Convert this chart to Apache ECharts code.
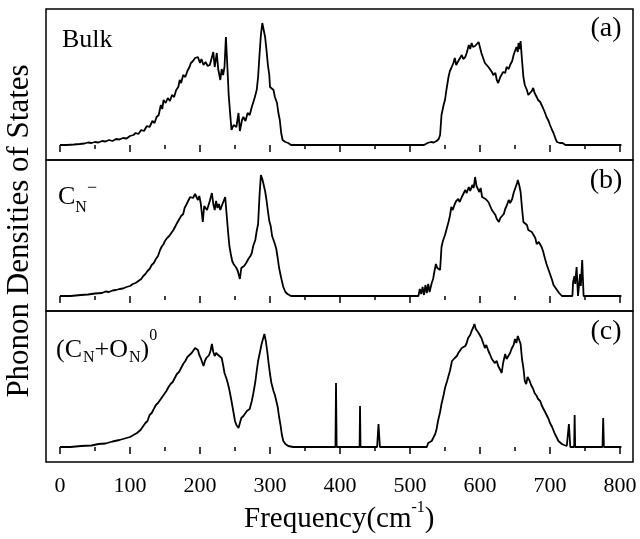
<!DOCTYPE html>
<html><head><meta charset="utf-8">
<script src="https://cdn.jsdelivr.net/npm/echarts@6/dist/echarts.min.js"></script>
<style>html,body{margin:0;padding:0;background:#fff}#c{width:640px;height:539px}</style>
</head><body><div id="c"></div>
<script>
const xTickValues = [0,100,200,300,400,500,600,700,800];
const panelLabels = ['(a)','(b)','(c)'];

const bulk = [[0,0],[10,0],[20,0.5],[28,1],[35,1.5],[40,2.5],[45,2],[50,3],[55,2.5],[60,4],[65,3.5],[70,5],[75,4],[80,6],[85,5.5],[90,7],[95,6.5],[100,9],[105,10],[108,12],[112,11],[116,15],[120,14],[124,19],[128,18],[132,24],[135,22],[138,28],[141,30],[144,40],[146,36],[148,45],[151,42],[154,47],[157,44],[160,50],[163,48],[166,55],[169,58],[171,65],[173,62],[176,70],[179,68],[182,74],[185,78],[187,82],[190,84],[193,87],[195,85],[197,88],[200,82],[202,86],[205,80],[208,83],[211,79],[214,80],[216,78],[219,93],[221,78],[224,92],[226,76],[229,65],[231,76],[233,70],[235,78],[237,108],[239,80],[241,50],[243,32],[245,15],[248,20],[250,22],[252,18],[255,32],[257,14],[260,25],[262,28],[265,24],[268,32],[271,30],[274,38],[276,36],[278,47],[281,55],[283,68],[285,90],[287,110],[289,122],[291,115],[293,108],[295,95],[297,80],[299,70],[300,58],[302,60],[305,55],[307,48],[310,42],[312,32],[314,25],[316,12],[318,5],[322,3],[326,2],[330,0],[520,0],[525,2],[530,3],[534,2.5],[538,4],[541,6],[543,10],[545,30],[548,40],[550,45],[552,55],[555,68],[557,74],[559,77],[562,82],[564,87],[566,80],[569,84],[571,82],[574,90],[576,86],[579,88],[581,92],[584,100],[586,96],[588,102],[590,98],[593,99],[595,97],[598,103],[600,105],[602,92],[604,88],[607,82],[609,84],[612,78],[614,76],[617,73],[619,70],[622,72],[624,65],[626,62],[629,68],[631,70],[633,73],[636,72],[638,78],[641,76],[643,80],[646,84],[648,90],[650,94],[652,98],[654,93],[655,102],[657,96],[658,104],[660,85],[662,68],[664,60],[667,55],[669,50],[671,48],[674,54],[676,57],[678,52],[681,48],[683,45],[686,43],[688,40],[690,37],[693,32],[695,28],[698,24],[700,20],[703,15],[705,12],[708,6],[710,3],[714,2],[718,2],[722,0],[802,0]];

const cnMinus = [[0,0],[15,0],[30,1],[40,1.5],[50,2.5],[60,3],[65,4.5],[70,4],[75,5.5],[80,6],[85,7],[90,7.5],[95,9],[100,10],[104,12],[108,13],[112,15],[116,17],[119,20],[122,22],[125,25],[128,27],[131,31],[134,33],[137,37],[140,40],[143,46],[145,49],[148,52],[150,55],[153,58],[156,60],[159,63],[162,66],[165,70],[168,74],[170,76],[173,80],[176,82],[178,88],[181,92],[183,95],[186,99],[188,101],[190,98],[193,102],[195,99],[197,96],[199,100],[201,93],[204,74],[206,90],[208,92],[210,86],[212,88],[214,95],[217,103],[219,92],[221,86],[223,95],[225,88],[227,92],[229,86],[231,90],[233,88],[236,99],[238,82],[240,65],[242,50],[244,42],[246,35],[248,32],[250,34],[252,28],[254,25],[257,17],[259,28],[261,26],[263,30],[266,33],[269,37],[272,40],[274,43],[276,50],[279,56],[281,65],[283,72],[285,100],[287,121],[289,117],[291,115],[293,105],[295,96],[297,85],[299,75],[301,70],[303,60],[305,56],[307,52],[309,47],[311,38],[313,28],[316,18],[319,9],[322,4],[325,2],[330,0],[512,0],[514,7],[516,2],[518,9],[520,1],[522,11],[524,3],[526,12],[528,4],[531,13],[533,17],[535,25],[537,32],[539,28],[541,30],[543,26],[545,49],[547,55],[550,61],[552,63],[555,74],[557,80],[559,89],[561,86],[564,92],[566,95],[569,97],[571,94],[574,99],[576,101],[579,106],[581,103],[584,109],[586,105],[589,111],[591,108],[593,119],[595,110],[597,107],[599,104],[601,108],[603,99],[605,101],[608,97],[610,98],[612,94],[614,92],[617,86],[619,84],[622,81],[624,77],[627,74],[629,78],[631,79],[634,82],[636,87],[638,90],[641,96],[643,93],[646,97],[648,103],[651,109],[653,113],[654,116],[656,111],[658,104],[660,88],[662,74],[664,72],[667,71],[669,66],[671,68],[674,64],[676,64],[679,58],[681,52],[684,54],[686,53],[688,49],[690,45],[693,37],[695,32],[698,26],[700,22],[703,16],[705,11],[708,8],[710,6],[713,3],[717,0],[732,0],[733,14],[735,20],[736,12],[738,29],[740,0],[742,0],[743,22],[744,10],[746,36],[748,0],[802,0]];

const cnOn0 = [[0,0],[15,0],[30,1],[45,1.5],[55,3],[65,3.5],[75,5.5],[85,7],[95,9],[100,10],[105,12],[110,14],[115,17],[119,21],[122,24],[125,26],[128,32],[131,34],[134,38],[137,42],[140,44],[143,47],[146,50],[149,53],[152,56],[155,60],[158,63],[161,65],[164,69],[167,73],[170,75],[173,79],[176,83],[179,86],[182,90],[185,92],[188,94],[190,96],[193,99],[195,101],[197,97],[199,92],[201,89],[203,85],[205,81],[207,86],[209,89],[211,88],[213,92],[215,96],[217,103],[219,95],[221,91],[223,94],[226,92],[228,93],[231,89],[233,82],[235,74],[238,68],[240,63],[242,57],[245,46],[247,38],[250,26],[252,22],[255,19],[257,24],[259,29],[262,31],[264,33],[267,36],[269,35],[271,38],[274,46],[276,53],[279,65],[281,76],[283,86],[286,96],[288,103],[290,108],[292,113],[294,106],[296,96],[298,84],[300,73],[302,64],[305,56],[307,52],[309,46],[311,40],[313,30],[315,22],[317,12],[319,6],[322,3],[326,1],[333,0],[393.5,0],[394.3,64],[395.2,0],[428,0],[428.6,41],[429.3,0],[453,0],[455,23],[457,0],[524,0],[526,4],[528,2],[531,6],[533,5],[536,13],[538,18],[540,26],[543,35],[545,43],[548,52],[550,59],[553,66],[555,71],[557,76],[560,86],[562,84],[564,89],[567,91],[569,94],[571,93],[574,99],[576,97],[579,101],[581,104],[583,109],[586,112],[588,116],[590,119],[592,123],[594,118],[596,120],[598,114],[600,112],[602,109],[604,105],[607,99],[609,102],[612,96],[614,93],[617,88],[619,86],[621,84],[624,86],[626,81],[629,77],[631,74],[633,84],[636,93],[638,88],[640,89],[643,94],[645,98],[648,102],[650,108],[652,104],[654,111],[656,107],[658,103],[660,88],[662,79],[664,66],[666,63],[668,70],[671,66],[673,62],[676,58],[678,54],[681,51],[683,48],[686,46],[688,42],[690,39],[693,35],[695,33],[698,28],[700,24],[703,20],[705,18],[707,13],[710,9],[712,6],[714,4],[717,3],[720,2],[724,1],[726,0],[727,23],[729,0],[734.5,0],[735.2,32],[736,0],[775,0],[776,29],[777,0],[802,0]];

const seriesData = [bulk, cnMinus, cnOn0];
const FONT = '"Liberation Serif","Times New Roman",serif';

const chart = echarts.init(document.getElementById('c'), null, {renderer:'canvas'});
const tops = [9, 160, 311];
const H = 151;
const grids = [];
const xAxes = [];
const yAxes = [];
const series = [];
tops.forEach(t => grids.push({left:60, right:20, top:t, height:H, show:false}));
tops.forEach(t => grids.push({left:46, right:7, top:t, height:H, show:true, borderColor:'#000', borderWidth:1.5, backgroundColor:'transparent'}));
for (let i = 0; i < 3; i++) {
  xAxes.push({gridIndex:i, type:'value', min:xTickValues[0], max:xTickValues[xTickValues.length-1], interval:100, position:'bottom',
    axisLine:{show:false}, splitLine:{show:false}, minorSplitLine:{show:false},
    axisTick:{show:true, inside:false, length:7, lineStyle:{color:'#000', width:1.5}},
    minorTick:{show:true, splitNumber:2, length:4, lineStyle:{color:'#000', width:1.5}},
    axisLabel:{show:i===2, margin:13, fontSize:22, fontFamily:FONT, color:'#000'}});
  yAxes.push({gridIndex:i, type:'value', min:-15, max:136, show:false});
  series.push({type:'line', xAxisIndex:i, yAxisIndex:i, data:seriesData[i], showSymbol:false, symbol:'none', clip:false,
    lineStyle:{color:'#000', width:1.8}, animation:false, silent:true});
}
for (let i = 0; i < 3; i++) {
  xAxes.push({gridIndex:3+i, type:'value', min:0, max:1, show:false});
  yAxes.push({gridIndex:3+i, type:'value', min:0, max:1, show:false});
}

const ctx = document.createElement('canvas').getContext('2d');
function measure(text, size){ ctx.font = size + 'px ' + FONT; return ctx.measureText(text).width; }
function txt(text, x, y, size, align){
  return {type:'text', x, y, silent:true,
    style:{text, fontSize:size, fontFamily:FONT, fill:'#000', textAlign:align||'left', textVerticalAlign:'middle'}};
}
function seq(x0, cy, parts){
  const out = []; let x = x0;
  parts.forEach(p => { out.push(txt(p[0], x, cy + p[2], p[1])); x += measure(p[0], p[1]) + (p[3]||0); });
  return out;
}
const graphic = [
  {type:'text', x:20, y:231, rotation:Math.PI/2, silent:true,
   style:{text:'Phonon Densities of States', fontSize:31, fontFamily:FONT, fill:'#000', textAlign:'center', textVerticalAlign:'middle'}},
  ...seq(244, 519, [['Frequency(cm',29,0],['-1',16,-11],[')',29,0]]),
  txt(panelLabels[0], 606, 29, 28, 'center'),
  txt(panelLabels[1], 606, 181, 28, 'center'),
  txt(panelLabels[2], 606, 332, 28, 'center'),
  txt('Bulk', 62, 40, 26),
  ...seq(58, 197, [['C',26,0],['N',16,11],['\u2212',18,-9]]),
  ...seq(56, 350, [['(C',26,0,1],['N',16,8],['+O',26,0,1],['N',16,8],[')',26,0],['0',16,-14]])
];
chart.setOption({animation:false, backgroundColor:'#fff', grid:grids, xAxis:xAxes, yAxis:yAxes, series, graphic});
</script>
</body></html>
